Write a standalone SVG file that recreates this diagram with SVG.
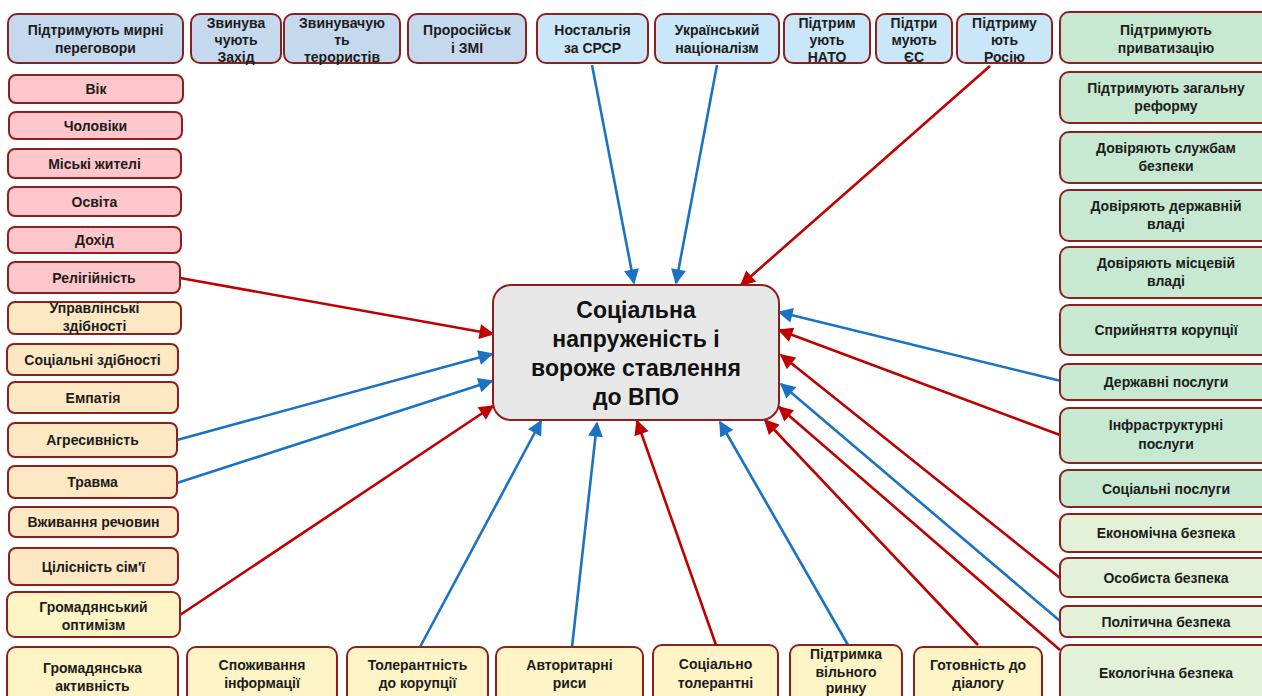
<svg xmlns="http://www.w3.org/2000/svg" width="1262" height="696" viewBox="0 0 1262 696">
<defs>
<style>
.b{stroke:#8e1f1f;stroke-width:2}
.bl1{fill:#c4d9ee}.bl2{fill:#c9e7f8}.pk{fill:#ffc6cc}.pe{fill:#fde8c3}.ye{fill:#fef4c6}.g1{fill:#c7e9d2}.g2{fill:#e3f1d8}
.t{font-family:"Liberation Sans",Arial,sans-serif;font-weight:bold;font-size:14px;fill:#1c1c1c;text-anchor:middle}
.c{font-family:"Liberation Sans",Arial,sans-serif;font-weight:bold;font-size:23px;fill:#111;text-anchor:middle}
.lb{stroke:#1a72c4;stroke-width:2.6;fill:none;marker-end:url(#ab)}
.lr{stroke:#c00000;stroke-width:2.6;fill:none;marker-end:url(#ar)}
</style>
<marker id="ab" viewBox="0 0 10 10" refX="9" refY="5" markerWidth="16" markerHeight="15" markerUnits="userSpaceOnUse" orient="auto"><path d="M0,0 L10,5 L0,10 z" fill="#1a72c4"/></marker>
<marker id="ar" viewBox="0 0 10 10" refX="9" refY="5" markerWidth="16" markerHeight="15" markerUnits="userSpaceOnUse" orient="auto"><path d="M0,0 L10,5 L0,10 z" fill="#c00000"/></marker>
</defs>
<rect width="1262" height="696" fill="#ffffff"/>

<g id="connectors">
<line class="lb" x1="592" y1="65" x2="634" y2="283"/>
<line class="lb" x1="717" y1="65" x2="676" y2="283"/>
<line class="lr" x1="990" y1="66" x2="741" y2="285"/>
<line class="lr" x1="180" y1="278" x2="493" y2="334"/>
<line class="lb" x1="177" y1="440" x2="492" y2="354"/>
<line class="lb" x1="177" y1="483" x2="492" y2="381"/>
<line class="lr" x1="180" y1="615" x2="493" y2="406"/>
<line class="lb" x1="420" y1="647" x2="541" y2="421"/>
<line class="lb" x1="572" y1="647" x2="597" y2="423"/>
<line class="lr" x1="716" y1="645" x2="637" y2="421"/>
<line class="lb" x1="848" y1="645" x2="720" y2="422"/>
<line class="lr" x1="978" y1="645" x2="765" y2="420"/>
<line class="lb" x1="1061" y1="381" x2="779" y2="312"/>
<line class="lr" x1="1060" y1="435" x2="779" y2="330"/>
<line class="lr" x1="1060" y1="578" x2="781" y2="355"/>
<line class="lb" x1="1060" y1="621" x2="781" y2="384"/>
<line class="lr" x1="1060" y1="650" x2="779" y2="407"/>
</g>

<g id="center"><rect class="b" x="493" y="285" width="286" height="135" rx="18" fill="#e7e7e7"/>
<text class="c"><tspan x="636" y="318">Соціальна</tspan><tspan x="636" y="347">напруженість і</tspan><tspan x="636" y="376">вороже ставлення</tspan><tspan x="636" y="405">до ВПО</tspan></text></g>

<g id="peace"><rect class="b bl1" x="8" y="14" width="175" height="49" rx="9"/><text class="t"><tspan x="95.5" y="35">Підтримують мирні</tspan><tspan x="95.5" y="53">переговори</tspan></text></g>
<g id="blameWest"><rect class="b bl1" x="191" y="14" width="90" height="49" rx="9"/><text class="t"><tspan x="236" y="28">Звинува</tspan><tspan x="236" y="45">чують</tspan><tspan x="236" y="62">Захід</tspan></text></g>
<g id="blameTerror"><rect class="b bl1" x="284" y="14" width="116" height="49" rx="9"/><text class="t"><tspan x="342" y="28">Звинувачую</tspan><tspan x="342" y="45">ть</tspan><tspan x="342" y="62">терористів</tspan></text></g>
<g id="proRussMedia"><rect class="b bl1" x="408" y="14" width="118" height="49" rx="9"/><text class="t"><tspan x="467" y="35">Проросійськ</tspan><tspan x="467" y="53">і ЗМІ</tspan></text></g>
<g id="nostalgia"><rect class="b bl2" x="537" y="14" width="111" height="49" rx="9"/><text class="t"><tspan x="592.5" y="35">Ностальгія</tspan><tspan x="592.5" y="53">за СРСР</tspan></text></g>
<g id="nationalism"><rect class="b bl2" x="655" y="14" width="124" height="49" rx="9"/><text class="t"><tspan x="717" y="35">Український</tspan><tspan x="717" y="53">націоналізм</tspan></text></g>
<g id="nato"><rect class="b bl2" x="784" y="14" width="86" height="49" rx="9"/><text class="t"><tspan x="827" y="28">Підтрим</tspan><tspan x="827" y="45">ують</tspan><tspan x="827" y="62">НАТО</tspan></text></g>
<g id="eu"><rect class="b bl2" x="876" y="14" width="76" height="49" rx="9"/><text class="t"><tspan x="914" y="28">Підтри</tspan><tspan x="914" y="45">мують</tspan><tspan x="914" y="62">ЄС</tspan></text></g>
<g id="russia"><rect class="b bl2" x="957" y="14" width="95" height="49" rx="9"/><text class="t"><tspan x="1004.5" y="28">Підтриму</tspan><tspan x="1004.5" y="45">ють</tspan><tspan x="1004.5" y="62">Росію</tspan></text></g>

<g id="age"><rect class="b pk" x="9" y="75" width="174" height="28" rx="7"/><text class="t" x="96" y="94">Вік</text></g>
<g id="men"><rect class="b pk" x="9" y="112" width="173" height="27" rx="7"/><text class="t" x="95.5" y="130.5">Чоловіки</text></g>
<g id="urban"><rect class="b pk" x="8" y="149" width="173" height="29" rx="7"/><text class="t" x="94.5" y="168.5">Міські жителі</text></g>
<g id="education"><rect class="b pk" x="8" y="187" width="173" height="29" rx="7"/><text class="t" x="94.5" y="206.5">Освіта</text></g>
<g id="income"><rect class="b pk" x="8" y="227" width="173" height="26" rx="7"/><text class="t" x="94.5" y="245">Дохід</text></g>
<g id="religion"><rect class="b pk" x="8" y="262" width="172" height="31" rx="7"/><text class="t" x="94" y="282.5">Релігійність</text></g>
<g id="mgmt"><rect class="b pe" x="8" y="302" width="173" height="32" rx="7"/><text class="t"><tspan x="94.5" y="313">Управлінські</tspan><tspan x="94.5" y="331">здібності</tspan></text></g>
<g id="social"><rect class="b pe" x="7" y="344" width="171" height="31" rx="7"/><text class="t" x="92.5" y="364.5">Соціальні здібності</text></g>
<g id="empathy"><rect class="b pe" x="8" y="382" width="170" height="31" rx="7"/><text class="t" x="93" y="402.5">Емпатія</text></g>
<g id="aggression"><rect class="b pe" x="8" y="423" width="169" height="34" rx="7"/><text class="t" x="92.5" y="445">Агресивність</text></g>
<g id="trauma"><rect class="b pe" x="8" y="466" width="169" height="32" rx="7"/><text class="t" x="92.5" y="487">Травма</text></g>
<g id="substance"><rect class="b pe" x="9" y="507" width="169" height="30" rx="7"/><text class="t" x="93.5" y="527">Вживання речовин</text></g>
<g id="family"><rect class="b pe" x="9" y="548" width="169" height="37" rx="7"/><text class="t" x="93.5" y="571.5">Цілісність сім'ї</text></g>
<g id="optimism"><rect class="b ye" x="7" y="592" width="173" height="45" rx="8"/><text class="t"><tspan x="93.5" y="612">Громадянський</tspan><tspan x="93.5" y="630">оптимізм</tspan></text></g>
<g id="activity"><rect class="b ye" x="7" y="647" width="171" height="60" rx="9"/><text class="t"><tspan x="92.5" y="673">Громадянська</tspan><tspan x="92.5" y="691">активність</tspan></text></g>

<g id="infoCons"><rect class="b ye" x="187" y="647" width="150" height="60" rx="9"/><text class="t"><tspan x="262" y="670">Споживання</tspan><tspan x="262" y="688">інформації</tspan></text></g>
<g id="corrTol"><rect class="b ye" x="347" y="647" width="141" height="60" rx="9"/><text class="t"><tspan x="417.5" y="670">Толерантність</tspan><tspan x="417.5" y="688">до корупції</tspan></text></g>
<g id="authoritarian"><rect class="b ye" x="496" y="647" width="147" height="60" rx="9"/><text class="t"><tspan x="569.5" y="670">Авторитарні</tspan><tspan x="569.5" y="688">риси</tspan></text></g>
<g id="socTol"><rect class="b ye" x="653" y="645" width="125" height="62" rx="9"/><text class="t"><tspan x="715.5" y="669">Соціально</tspan><tspan x="715.5" y="688">толерантні</tspan></text></g>
<g id="freeMarket"><rect class="b ye" x="790" y="645" width="112" height="62" rx="9"/><text class="t"><tspan x="846" y="659">Підтримка</tspan><tspan x="846" y="676.5">вільного</tspan><tspan x="846" y="693">ринку</tspan></text></g>
<g id="dialogue"><rect class="b ye" x="914" y="647" width="128" height="60" rx="9"/><text class="t"><tspan x="978" y="670">Готовність до</tspan><tspan x="978" y="688">діалогу</tspan></text></g>

<g id="privat"><rect class="b g1" x="1060" y="12" width="215" height="51" rx="9"/><text class="t"><tspan x="1166" y="35">Підтримують</tspan><tspan x="1166" y="53">приватизацію</tspan></text></g>
<g id="reform"><rect class="b g1" x="1060" y="72" width="215" height="51" rx="9"/><text class="t"><tspan x="1166" y="93">Підтримують загальну</tspan><tspan x="1166" y="111">реформу</tspan></text></g>
<g id="trustSec"><rect class="b g1" x="1060" y="132" width="215" height="51" rx="9"/><text class="t"><tspan x="1166" y="153">Довіряють службам</tspan><tspan x="1166" y="171">безпеки</tspan></text></g>
<g id="trustState"><rect class="b g1" x="1060" y="190" width="215" height="51" rx="9"/><text class="t"><tspan x="1166" y="211">Довіряють державній</tspan><tspan x="1166" y="229">владі</tspan></text></g>
<g id="trustLocal"><rect class="b g1" x="1060" y="247" width="215" height="51" rx="9"/><text class="t"><tspan x="1166" y="268">Довіряють місцевій</tspan><tspan x="1166" y="286">владі</tspan></text></g>
<g id="corruption"><rect class="b g1" x="1060" y="305" width="215" height="50" rx="9"/><text class="t" x="1166" y="335">Сприйняття корупції</text></g>
<g id="stateServ"><rect class="b g1" x="1060" y="364" width="215" height="36" rx="8"/><text class="t" x="1166" y="387">Державні послуги</text></g>
<g id="infraServ"><rect class="b g1" x="1060" y="408" width="215" height="55" rx="9"/><text class="t"><tspan x="1166" y="430">Інфраструктурні</tspan><tspan x="1166" y="449">послуги</tspan></text></g>
<g id="socServ"><rect class="b g1" x="1060" y="470" width="215" height="37" rx="8"/><text class="t" x="1166" y="493.5">Соціальні послуги</text></g>
<g id="econSec"><rect class="b g2" x="1060" y="514" width="215" height="38" rx="8"/><text class="t" x="1166" y="538">Економічна безпека</text></g>
<g id="persSec"><rect class="b g2" x="1060" y="558" width="215" height="39" rx="8"/><text class="t" x="1166" y="582.5">Особиста безпека</text></g>
<g id="polSec"><rect class="b g2" x="1060" y="606" width="215" height="31" rx="7"/><text class="t" x="1166" y="626.5">Політична безпека</text></g>
<g id="ecoSec"><rect class="b g2" x="1060" y="645" width="215" height="62" rx="9"/><text class="t" x="1166" y="678">Екологічна безпека</text></g>
</svg>
